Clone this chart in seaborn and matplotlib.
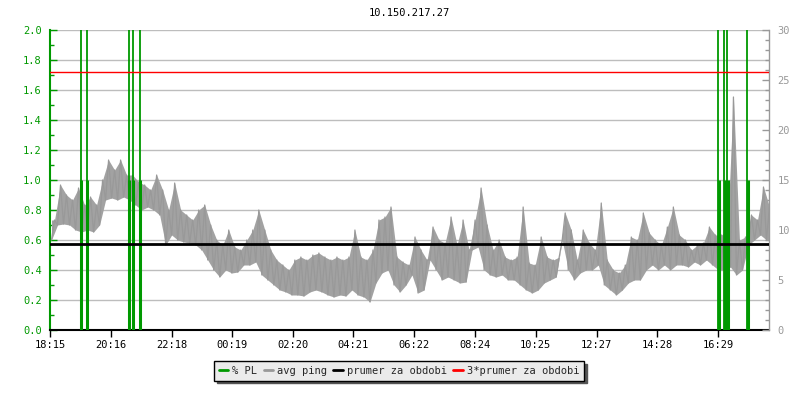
import numpy as np
import pandas as pd
import matplotlib
matplotlib.use("Agg")
import matplotlib.pyplot as plt
import seaborn as sns
from matplotlib.lines import Line2D
from matplotlib.ticker import MultipleLocator

# ---------------- data ----------------
title = "10.150.217.27"
xtick_labels = ["18:15", "20:16", "22:18", "00:19", "02:20", "04:21",
                "06:22", "08:24", "10:25", "12:27", "14:28", "16:29"]
span_minutes = 1436          # length of the period shown (minutes)
bin_minutes = 12             # sampling of the envelope

# avg ping (ms): low / high within each 12-minute bin
ping_lo = [9.0, 10.5, 10.6, 10.5, 10.0, 9.8, 10.0, 9.8, 10.5, 13.0,
           13.2, 13.0, 13.3, 13.0, 12.5, 12.0, 12.3, 12.0, 11.5, 8.5,
           9.5, 9.0, 8.8, 8.7, 8.5, 8.0, 7.0, 6.0, 5.3, 6.0,
           5.7, 5.8, 6.5, 6.5, 6.8, 5.5, 5.0, 4.5, 4.0, 3.8,
           3.5, 3.5, 3.4, 3.8, 4.0, 3.8, 3.5, 3.3, 3.5, 3.4,
           4.0, 3.5, 3.3, 2.8, 4.7, 5.7, 6.0, 4.5, 3.8, 4.5,
           5.5, 3.7, 4.0, 7.0, 6.0, 5.0, 5.3, 5.0, 4.7, 4.8,
           8.0, 8.3, 6.0, 5.5, 5.3, 5.5, 5.0, 5.0, 4.5, 4.0,
           3.7, 4.0, 4.7, 5.0, 5.3, 9.0, 6.0, 5.0, 5.7, 6.0,
           6.0, 6.5, 4.5, 4.0, 3.5, 4.0, 4.7, 5.0, 5.0, 6.0,
           6.5, 6.0, 6.5, 6.0, 6.5, 6.5, 6.3, 6.8, 6.5, 7.0,
           6.5, 6.0, 6.0, 6.3, 5.5, 6.0, 8.5, 9.0, 9.5, 9.0]
ping_hi = [11.0, 14.5, 13.5, 13.0, 14.2, 12.5, 13.3, 12.5, 15.0, 17.0,
           16.0, 17.0, 15.5, 15.5, 14.8, 14.5, 14.0, 15.5, 14.0, 12.0,
           14.7, 12.0, 11.5, 11.0, 12.0, 12.5, 10.5, 9.0, 8.5, 10.0,
           8.3, 8.0, 9.0, 10.0, 12.0, 10.0, 8.0, 7.0, 6.5, 6.0,
           7.0, 7.3, 7.0, 7.5, 7.7, 7.3, 7.0, 7.3, 7.0, 7.3,
           10.0, 7.3, 7.0, 8.0, 11.0, 11.3, 12.3, 7.3, 6.8, 6.5,
           9.3, 8.0, 7.0, 10.3, 9.0, 8.7, 11.3, 8.5, 11.0, 8.0,
           11.0, 14.2, 10.5, 8.0, 9.0, 7.3, 7.0, 7.3, 12.3, 6.7,
           6.5, 9.3, 7.3, 7.0, 7.3, 11.7, 10.0, 7.0, 10.0, 8.7,
           8.0, 12.7, 7.0, 6.0, 5.7, 6.5, 9.3, 9.0, 11.7, 9.7,
           9.0, 8.5, 10.3, 12.3, 9.5, 9.0, 8.0, 8.5, 8.7, 10.3,
           9.5, 9.5, 10.0, 23.3, 9.0, 9.3, 11.5, 11.0, 14.3, 12.3]

# packet loss events (minutes from start) and values in %
pl_times = [61, 73, 157, 165, 179, 1335, 1347, 1353, 1393]
pl_peak = [100, 100, 100, 100, 100, 100, 100, 100, 100]
pl_second = [1.0, 1.0, 1.0, 1.0, 1.0, 1.0, 1.0, 1.0, 1.0]

prumer = 8.6                 # period average (ms)
prumer3 = 3 * prumer

# ---------------- styling ----------------
sns.set_style("white")
plt.rcParams["font.family"] = ["DejaVu Sans Mono"]
GREEN = "#009900"
GRAY = "#999999"
GRID = "#bdbdbd"
FS = 7.5

def to_min(lbl):
    h, m = map(int, lbl.split(":"))
    h0, m0 = map(int, xtick_labels[0].split(":"))
    return ((h * 60 + m) - (h0 * 60 + m0)) % 1440

xticks = [to_min(l) for l in xtick_labels]

# zig-zag ping series from the envelope
t0 = np.arange(len(ping_lo)) * bin_minutes
t_lo = t0 + 3
t_hi = t0 + 9
t = np.empty(2 * len(ping_lo))
v = np.empty(2 * len(ping_lo))
t[0::2] = t_lo
t[1::2] = t_hi
v[0::2] = ping_lo
v[1::2] = ping_hi
ping_df = pd.DataFrame({"t": t, "ms": v})

fig = plt.figure(figsize=(8, 4), dpi=100)
L, R, B, T = 50 / 800, 769 / 800, 1 - 330 / 400, 1 - 30 / 400
ax = fig.add_axes([L, B, R - L, T - B])          # left (PL) scale + grid
ax_ping = ax.twinx()                              # right ms scale, ping
ax_pl = ax.twinx()                                # PL bars
ax_mean = ax.twinx()                              # mean lines

ax.set_xlim(0, span_minutes)
ax.set_ylim(0, 2.0)
for a in (ax_ping, ax_mean):
    a.set_ylim(0, 30)
ax_pl.set_ylim(0, 2.0)

# grid
ax.yaxis.set_major_locator(MultipleLocator(0.2))
ax.yaxis.set_minor_locator(MultipleLocator(0.1))
ax.grid(True, axis="y", color=GRID, lw=1)
ax.grid(False, axis="x")
ax.set_axisbelow(True)

# ping: dense band between the per-bin lows and highs, plus the trace itself
ax_ping.fill_between(t, np.interp(t, t_lo, ping_lo), np.interp(t, t_hi, ping_hi),
                     color="#a2a2a2", lw=0)
sns.lineplot(data=ping_df, x="t", y="ms", ax=ax_ping, color=GRAY, lw=0.9,
             sort=False, estimator=None, legend=False)

# packet loss
ax_pl.vlines(pl_times, 0, pl_peak, color=GREEN, lw=1.3)
ax_pl.vlines(np.array(pl_times) + 1, 0, pl_second, color=GREEN, lw=2.2)

# means
ax_mean.axhline(prumer, color="black", lw=2)
ax_mean.axhline(prumer3, color="red", lw=1)

# ticks & spines
ax.set_xticks(xticks)
ax.set_xticklabels(xtick_labels)
ax.tick_params(axis="x", direction="out", length=5, width=1, color="black",
               labelsize=FS, labelcolor="black", pad=2, bottom=True)
ax.tick_params(axis="y", which="major", direction="in", length=5, width=1,
               color=GREEN, labelcolor=GREEN, labelsize=FS, pad=6,
               left=True, right=False)
ax.tick_params(axis="y", which="minor", direction="in", length=3, width=1,
               color=GREEN, left=True, right=False)
ax.set_yticklabels([f"{x:.1f}" for x in ax.get_yticks()])

ax_ping.yaxis.set_major_locator(MultipleLocator(5))
ax_ping.yaxis.set_minor_locator(MultipleLocator(1))
ax_ping.tick_params(axis="y", which="major", direction="in", length=5, width=1,
                    color=GRAY, labelcolor=GRAY, labelsize=FS, pad=6,
                    right=True, left=False, labelright=True, labelleft=False)
ax_ping.tick_params(axis="y", which="minor", direction="in", length=3, width=1,
                    color=GRAY, right=True, left=False)

for a in (ax_pl, ax_mean):
    a.set_yticks([])
    for s in a.spines.values():
        s.set_visible(False)
for s in ax_ping.spines.values():
    s.set_visible(False)
ax_ping.spines["right"].set_visible(True)
ax_ping.spines["right"].set_color(GRAY)
ax_ping.spines["right"].set_linewidth(1)

ax.spines["top"].set_visible(False)
ax.spines["right"].set_visible(False)
ax.spines["left"].set_color(GREEN)
ax.spines["left"].set_linewidth(1.5)
ax.spines["bottom"].set_color("black")
ax.spines["bottom"].set_linewidth(1.5)
for a in (ax, ax_ping, ax_pl, ax_mean):
    a.set_xlabel("")
    a.set_ylabel("")

fig.text(409.5 / 800, 1 - 13 / 400, title, ha="center", va="center",
         fontsize=FS, color="black")

handles = [Line2D([], [], color=GREEN, lw=2),
           Line2D([], [], color=GRAY, lw=2),
           Line2D([], [], color="black", lw=2),
           Line2D([], [], color="red", lw=2)]
labels = ["% PL", "avg ping", "prumer za obdobi", "3*prumer za obdobi"]
leg = fig.legend(handles, labels, loc="center", bbox_to_anchor=(399 / 800, 1 - 371 / 400),
                 ncol=4, fontsize=FS, frameon=True, fancybox=False,
                 edgecolor="black", facecolor="#ebebeb", framealpha=1,
                 handlelength=0.9, handletextpad=0.4, columnspacing=0.6,
                 borderpad=0.45, borderaxespad=0,
                 shadow={"color": "#555555", "alpha": 1})
leg.get_frame().set_linewidth(1)

fig.savefig("out.png", dpi=100)
